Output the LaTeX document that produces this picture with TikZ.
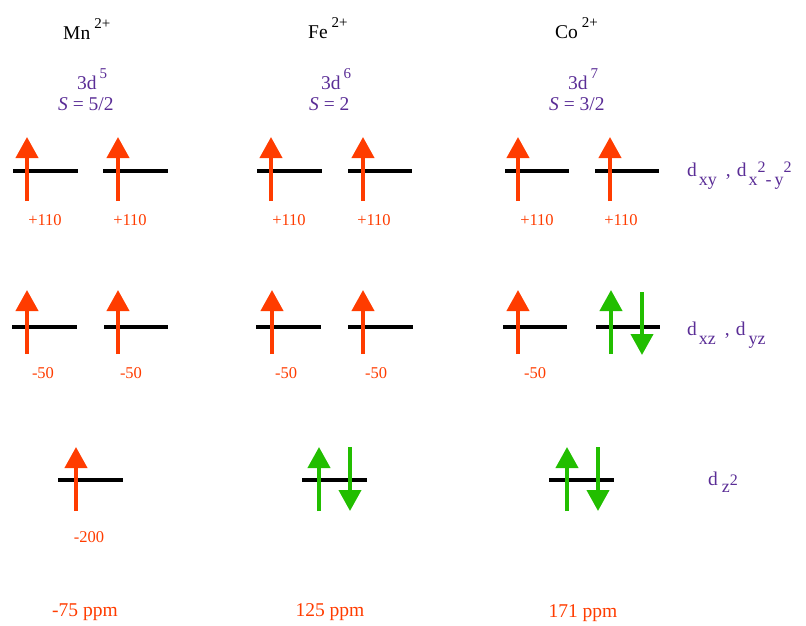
\documentclass[tikz,border=0pt]{standalone}
\usepackage{fontspec}
\setmainfont{Liberation Serif}
\usetikzlibrary{arrows.meta}

\definecolor{spinred}{RGB}{255,60,0}
\definecolor{spingreen}{RGB}{34,190,0}
\definecolor{termviolet}{RGB}{90,45,150}

\newcommand{\lo}[1]{\raisebox{-9pt}{\fontsize{18}{18}\selectfont #1}}
\newcommand{\hi}[1]{\raisebox{10.5pt}{\fontsize{15}{15}\selectfont #1}}
\newcommand{\sm}[1]{{\fontsize{16}{16}\selectfont #1}}
\newcommand{\smup}[1]{\raisebox{4pt}{\fontsize{16}{16}\selectfont #1}}

\begin{document}
\begin{tikzpicture}[
            x=1pt, y=-1pt,
            every node/.style={font=\fontsize{19.5}{22}\selectfont, inner sep=0pt},
            level/.style={line width=4pt, black},
            spinup/.style={spinred, line width=4pt, -{Triangle[width=22pt,length=21pt]}},
            pairup/.style={spingreen, line width=4pt, -{Triangle[width=22pt,length=21pt]}},
            shiftlabel/.style={spinred, font=\fontsize{16.5}{18}\selectfont},
            term/.style={termviolet, anchor=base west}
        ]
        \useasboundingbox (0,0) rectangle (806,625);

        % ions
        \node[anchor=base west] (mn) at (63,39) {Mn\hspace{4pt}\hi{2+}};
        \node[anchor=base west] (fe) at (308,38) {Fe\hspace{4pt}\hi{2+}};
        \node[anchor=base west] (co) at (555,38) {Co\hspace{4pt}\hi{2+}};

        \node[term] (mnconf) at (77,89) {3d\hspace{3pt}\hi{5}};
        \node[term] (feconf) at (321,89) {3d\hspace{3pt}\hi{6}};
        \node[term] (coconf) at (568,89) {3d\hspace{3pt}\hi{7}};

        \node[term] (mnspin) at (58,110) {\textit{S} = 5/2};
        \node[term] (fespin) at (309,110) {\textit{S} = 2};
        \node[term] (cospin) at (549,110) {\textit{S} = 3/2};

        % d_xy, d_x2-y2
        \draw[level] (13,171) -- (78,171);
        \draw[level] (103,171) -- (168,171);
        \draw[level] (257,171) -- (322,171);
        \draw[level] (348,171) -- (412,171);
        \draw[level] (505,171) -- (569,171);
        \draw[level] (595,171) -- (659,171);

        \draw[spinup] (27,201) -- (27,137);
        \draw[spinup] (118,201) -- (118,137);
        \draw[spinup] (271,201) -- (271,137);
        \draw[spinup] (363,201) -- (363,137);
        \draw[spinup] (518,201) -- (518,137);
        \draw[spinup] (610,201) -- (610,137);

        \node[shiftlabel] (mna) at (45,220) {+110};
        \node[shiftlabel] (mnb) at (130,220) {+110};
        \node[shiftlabel] (fea) at (289,220) {+110};
        \node[shiftlabel] (feb) at (374,220) {+110};
        \node[shiftlabel] (coa) at (537,220) {+110};
        \node[shiftlabel] (cob) at (621,220) {+110};

        \node[term] (dxy) at (687,176) {d\hspace{2pt}\lo{xy}\hspace{9pt},\hspace{6pt}d\hspace{2pt}\lo{x}\smup{2}\lo{-\,y}\smup{2}};

        % d_xz, d_yz
        \draw[level] (12,327) -- (77,327);
        \draw[level] (104,327) -- (168,327);
        \draw[level] (256,327) -- (321,327);
        \draw[level] (348,327) -- (413,327);
        \draw[level] (503,327) -- (567,327);
        \draw[level] (596,327) -- (660,327);

        \draw[spinup] (27,354) -- (27,290);
        \draw[spinup] (118,354) -- (118,290);
        \draw[spinup] (272,354) -- (272,290);
        \draw[spinup] (363,354) -- (363,290);
        \draw[spinup] (518,354) -- (518,290);
        \draw[pairup] (611,354) -- (611,290);
        \draw[pairup] (642,292) -- (642,355);

        \node[shiftlabel] (mnc) at (43,373) {-50};
        \node[shiftlabel] (mnd) at (131,373) {-50};
        \node[shiftlabel] (fec) at (286,373) {-50};
        \node[shiftlabel] (fed) at (376,373) {-50};
        \node[shiftlabel] (coc) at (535,373) {-50};

        \node[term] (dxz) at (687,335) {d\hspace{2pt}\lo{xz}\hspace{9pt},\hspace{6pt}d\hspace{3pt}\lo{yz}};

        % d_z2
        \draw[level] (58,480) -- (123,480);
        \draw[level] (302,480) -- (367,480);
        \draw[level] (549,480) -- (614,480);

        \draw[spinup] (76,511) -- (76,447);
        \draw[pairup] (319,511) -- (319,447);
        \draw[pairup] (350,447) -- (350,511);
        \draw[pairup] (567,511) -- (567,447);
        \draw[pairup] (598,447) -- (598,511);

        \node[shiftlabel] (mne) at (89,537) {-200};

        \node[term] (dz) at (708,485) {d\hspace{4pt}\raisebox{-7pt}{\fontsize{18}{18}\selectfont z}\sm{2}};

        % contact shifts
        \node[spinred] (mnppm) at (85,612) {-75 ppm};
        \node[spinred] (feppm) at (330,612) {125 ppm};
        \node[spinred] (coppm) at (583,613) {171 ppm};

    \end{tikzpicture}
\end{document}
